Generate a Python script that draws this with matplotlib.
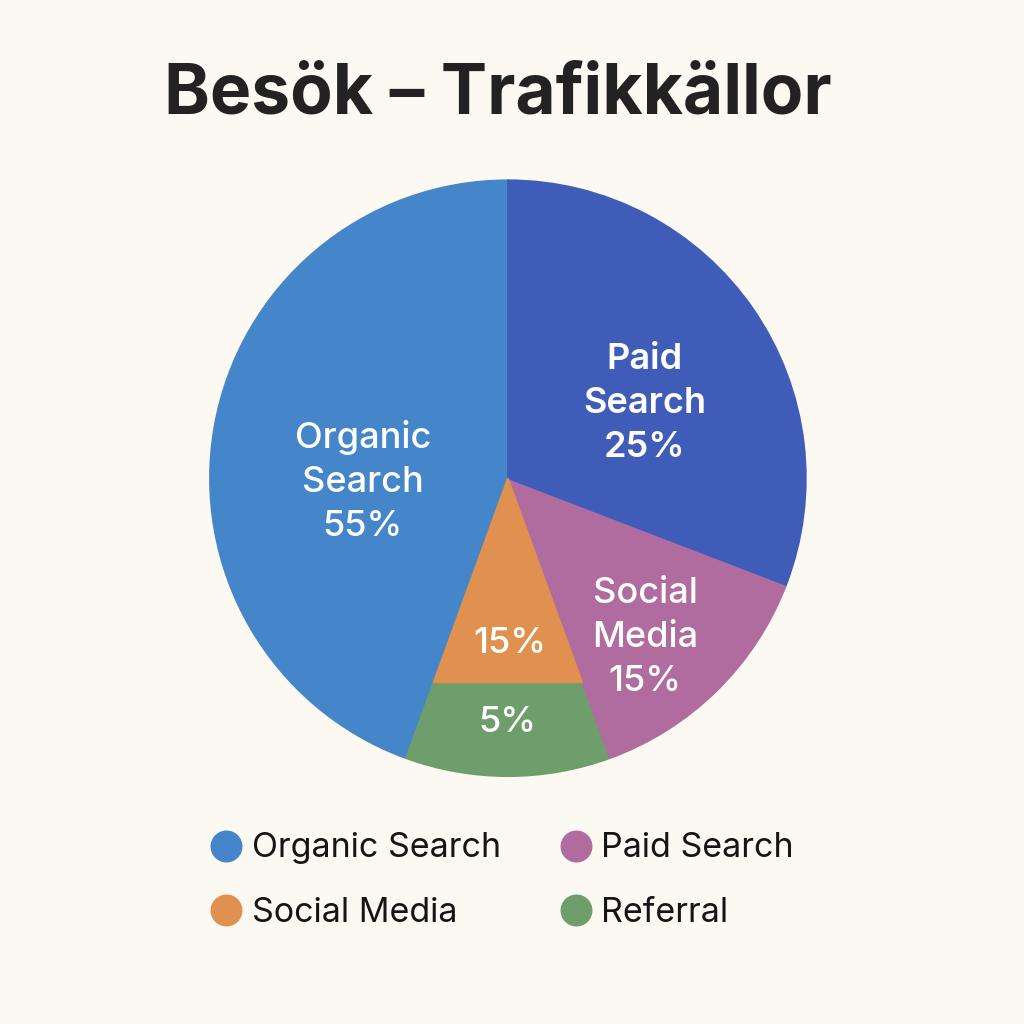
import numpy as np
import matplotlib.pyplot as plt
from matplotlib.patches import Polygon
from matplotlib.lines import Line2D

plt.rcParams['font.family'] = ['Inter', 'DejaVu Sans']

# Data
titel = 'Besök – Trafikkällor'
# wedge sizes in degrees, counter-clockwise from the top
segment = ['Organic Search', 'Bottom', 'Social Media', 'Paid Search']
vinklar = [160, 40, 49, 111]
farger = ['#4585C9', '#6E9E6C', '#B06C9F', '#3F5CB9']
orange = '#E0914F'

etiketter = ['Organic\nSearch\n55%', '5%', 'Social\nMedia\n15%', 'Paid\nSearch\n25%']
etikett_orange = '15%'

legend_namn = ['Organic Search', 'Social Media', 'Paid Search', 'Referral']
legend_farg = ['#4585C9', orange, '#B06C9F', '#6E9E6C']

bg = '#FCF8F2'

fig = plt.figure(figsize=(10.24, 10.24), dpi=100, facecolor=bg)
ax = fig.add_axes([0.205, 0.242, 0.582, 0.582])
ax.set_facecolor(bg)

wedges, _ = ax.pie(vinklar, colors=farger, startangle=90, counterclock=True,
                   radius=1, wedgeprops=dict(linewidth=1.2))
for w, c in zip(wedges, farger):
    w.set_edgecolor(c)

# orange triangle inside the bottom wedge, cut off by a horizontal line
a1 = np.deg2rad(90 + vinklar[0])
a2 = np.deg2rad(90 + vinklar[0] + vinklar[1])
djup = 0.685
p1 = (djup * np.cos(a1) / -np.sin(a1), -djup)
p2 = (djup * np.cos(a2) / -np.sin(a2), -djup)
ax.add_patch(Polygon([(0, 0), p1, p2], closed=True, facecolor=orange,
                     edgecolor=orange, linewidth=1.2, zorder=3))

ax.set_xlim(-1, 1)
ax.set_ylim(-1, 1)
ax.set_aspect('equal')
ax.axis('off')

tk = dict(color='white', ha='center', va='center', fontsize=26, linespacing=1.42, zorder=5)
ax.text(-0.487, -0.01, etiketter[0], fontweight='medium', **tk)
ax.text(0.46, 0.25, etiketter[3], fontweight='semibold', **tk)
ax.text(0.46, -0.535, etiketter[2], fontweight='medium', **tk)
ax.text(0.007, -0.555, etikett_orange, fontweight='medium', **tk)
ax.text(-0.003, -0.82, etiketter[1], fontweight='medium', **tk)

fig.text(0.486, 0.907, titel, ha='center', va='center', fontsize=50,
         fontweight='bold', color='#222222')

handles = [Line2D([], [], marker='o', linestyle='', markersize=22,
                  markerfacecolor=c, markeredgecolor=c) for c in legend_farg]
fig.legend(handles, legend_namn, loc='center', bbox_to_anchor=(0.49, 0.14),
           ncol=2, frameon=False, fontsize=24.5, handlelength=1.0,
           handletextpad=0.25, columnspacing=1.7, labelspacing=0.95,
           labelcolor='#151515')

fig.savefig('out.png', dpi=100, facecolor=bg)
